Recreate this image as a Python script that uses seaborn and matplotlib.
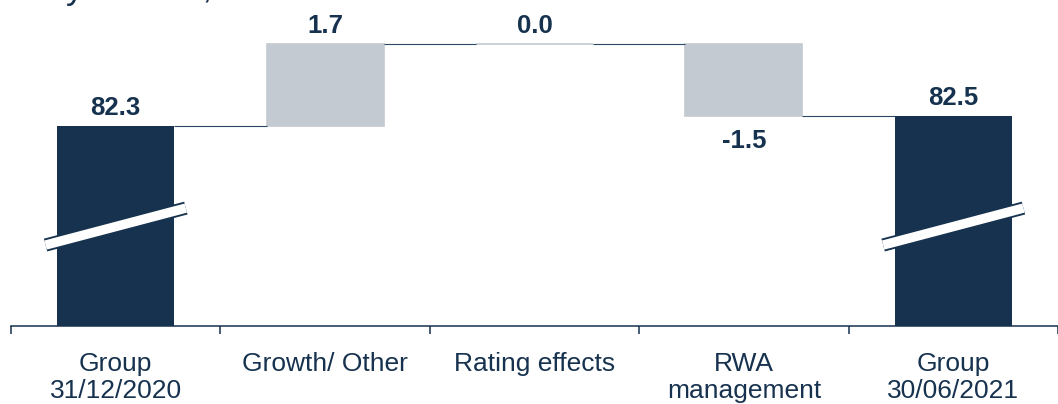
import numpy as np
import matplotlib
matplotlib.use("Agg")
import matplotlib.pyplot as plt
import matplotlib.transforms as mtransforms
import seaborn as sns

# RWA bridge, € bn
categories = ["Group\n31/12/2020", "Growth/ Other", "Rating effects",
              "RWA\nmanagement", "Group\n30/06/2021"]
opening = 82.3
changes = [1.7, 0.0, -1.5]
closing = 82.5
value_labels = ["82.3", "1.7", "0.0", "-1.5", "82.5"]

NAVY = "#16324f"
GREY = "#c3cad1"
LINK = "#2b4866"

sns.set_theme(style="white")
plt.rcParams["font.family"] = ["Liberation Sans", "DejaVu Sans"]

# waterfall geometry: totals start at zero, changes float on the running level
levels = np.concatenate([[opening], opening + np.cumsum(changes)])
heights = np.array([opening] + changes + [closing])
bottoms = np.concatenate([[0.0], levels[:-1], [0.0]])
is_total = [True, False, False, False, True]

bar_w = 118 / 211

fig = plt.figure(figsize=(10.58, 4.04), dpi=100)
ax = fig.add_axes([11 / 1058, 1 - 326 / 404, 1047 / 1058, 326 / 404])

sns.barplot(x=categories, y=heights, bottom=bottoms, width=bar_w, ax=ax,
            color=NAVY, saturation=1, linewidth=0, err_kws={"linewidth": 0})

for patch, total in zip(ax.patches, is_total):
    patch.set_facecolor(NAVY if total else GREY)
    if not total:
        patch.set_edgecolor(GREY)
        patch.set_linewidth(1.2)

ax.set_xlim(-0.5, -0.5 + 1047 / 211)
px_per_unit = 48.5
top_val = opening + 126 / px_per_unit
ax.set_ylim(top_val - 326 / px_per_unit, top_val)

# connectors between consecutive bars
for i, lvl in enumerate(levels):
    ax.plot([i + bar_w / 2, i + 1 - bar_w / 2], [lvl, lvl],
            color=LINK, lw=0.8, solid_capstyle="butt", zorder=3)

# value labels
for i, (b, h, lab) in enumerate(zip(bottoms, heights, value_labels)):
    if h < 0:
        ax.annotate(lab, xy=(i, b + h), xytext=(0, -32), textcoords="offset pixels",
                    ha="center", va="baseline", fontsize=18.5, fontweight="bold",
                    color=NAVY)
    else:
        ax.annotate(lab, xy=(i, b + h), xytext=(0, 11), textcoords="offset pixels",
                    ha="center", va="baseline", fontsize=18.5, fontweight="bold",
                    color=NAVY)

# axis-break marks on the total bars
blend = mtransforms.blended_transform_factory(ax.transData, ax.transAxes)
for i, total in enumerate(is_total):
    if total:
        xs = [i - 0.335, i + 0.335]
        ys = [0.305 - 0.0567, 0.305 + 0.0567]
        ax.plot(xs, ys, transform=blend, color=NAVY, lw=9.5,
                solid_capstyle="butt", zorder=4, clip_on=False)
        ax.plot(xs, ys, transform=blend, color="white", lw=6.8,
                solid_capstyle="butt", zorder=5, clip_on=False)

# category labels centred under each bar
for i, cat in enumerate(categories):
    ax.annotate(cat, xy=(i, 0), xycoords=blend, xytext=(0, -26),
                textcoords="offset pixels", ha="center", va="top",
                fontsize=19, color=NAVY, linespacing=1.17)

# boundary ticks
ax.set_xticks(np.arange(-0.5, len(categories), 1.0))
ax.set_xticklabels([])
ax.set_yticks([])
ax.tick_params(axis="x", bottom=True, direction="out", length=5.8, width=1.1,
               color=NAVY)
for side in ("left", "top", "right"):
    ax.spines[side].set_visible(False)
ax.spines["bottom"].set_color(NAVY)
ax.spines["bottom"].set_linewidth(1.1)
ax.set_xlabel("")
ax.set_ylabel("")

# heading runs off the top edge; only its lower strokes remain in view
fig.text(8 / 1058, 1 + 2 / 404, "Fully loaded, €bn", fontsize=26, color=NAVY,
         ha="left", va="baseline")

fig.savefig("out.png", dpi=100)
